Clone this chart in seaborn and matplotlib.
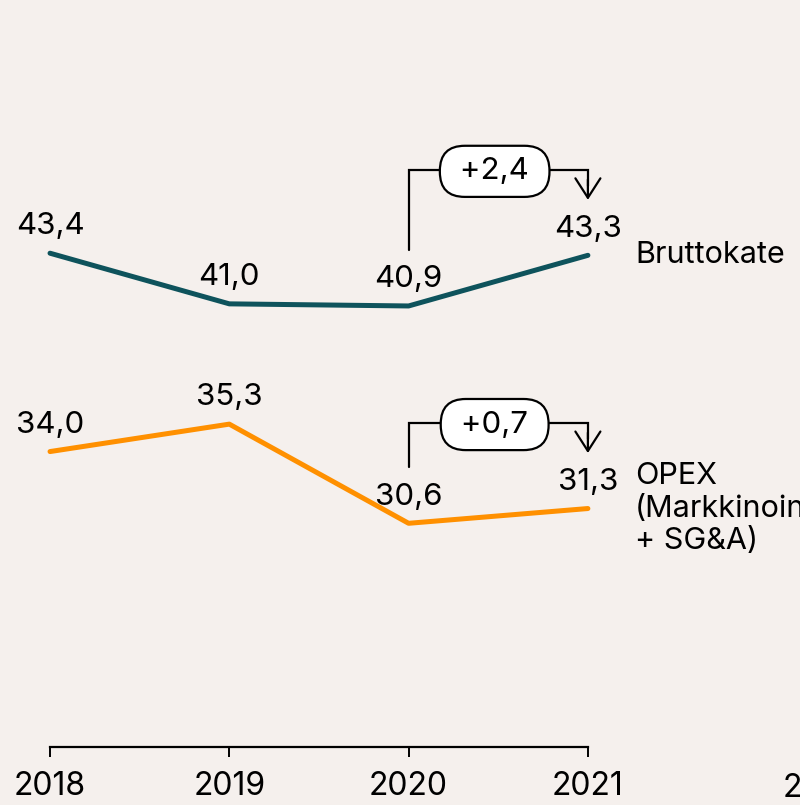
import numpy as np
import pandas as pd
import matplotlib.pyplot as plt
import seaborn as sns

# chart values
years = [2018, 2019, 2020, 2021]
bruttokate = [43.4, 41.0, 40.9, 43.3]
opex = [34.0, 35.3, 30.6, 31.3]
series_names = ["Bruttokate", "OPEX\n(Markkinointi\n+ SG&A)"]
changes = ["+2,4", "+0,7"]
series_colors = ["#0e535c", "#ff9000"]

bg = "#f5f0ed"

sns.set_theme(style="white", rc={"axes.facecolor": bg, "figure.facecolor": bg})
plt.rcParams["font.family"] = ["Inter", "DejaVu Sans"]

df = pd.DataFrame({
    "year": years * 2,
    "value": bruttokate + opex,
    "series": [series_names[0]] * 4 + [series_names[1]] * 4,
})

fig = plt.figure(figsize=(8, 8.05), dpi=100)
ax = fig.add_axes([0, 0, 1, 1])

sns.lineplot(data=df, x="year", y="value", hue="series", palette=series_colors,
             linewidth=3.6, legend=False, ax=ax)

ax.set_xlim(2017.721, 2022.183)
ax.set_ylim(17.25, 55.4)

# value labels
for vals in [bruttokate, opex]:
    for x, v in zip(years, vals):
        ax.annotate(f"{v:.1f}".replace(".", ","), (x, v), xytext=(0, 13.5),
                    textcoords="offset points", ha="center", va="baseline",
                    fontsize=22.5, color="black")

# series names at right end
for vals, name in zip([bruttokate, opex], series_names):
    ax.annotate(name, (years[-1], vals[-1]), xytext=(34, 0),
                textcoords="offset points", ha="left", va="center",
                fontsize=22, color="black", linespacing=1.2,
                annotation_clip=False)

# change brackets 2020 -> 2021
for vals, ch in zip([bruttokate, opex], changes):
    top = max(vals[2], vals[3]) + 4.03
    ax.plot([years[2], years[2], years[3], years[3]],
            [vals[2] + 2.65, top, top, vals[3] + 3.3],
            color="black", lw=1.6, solid_joinstyle="miter")
    ax.annotate("", xy=(years[3], vals[3] + 2.63), xytext=(years[3], vals[3] + 3.6),
                arrowprops=dict(arrowstyle="->,head_length=0.7,head_width=0.45",
                                color="black", lw=1.6, mutation_scale=20,
                                shrinkA=0, shrinkB=0))
    ax.text((years[2] + years[3]) / 2 - 0.02, top - 0.05, " " + ch + " ", ha="center", va="center",
            fontsize=22.5, color="black", zorder=5,
            bbox=dict(boxstyle="round,pad=0.37,rounding_size=0.8",
                      facecolor="white", edgecolor="black", linewidth=1.6))

# axis styling
for s in ["top", "right", "left"]:
    ax.spines[s].set_visible(False)
ax.spines["bottom"].set_position(("data", 20))
ax.spines["bottom"].set_bounds(years[0], years[-1])
ax.spines["bottom"].set_color("black")
ax.spines["bottom"].set_linewidth(1.6)
ax.set_xticks(years)
ax.set_xticklabels([str(y) for y in years], fontsize=23, color="black")
ax.tick_params(axis="x", direction="out", length=7.5, width=1.4, color="black",
               labelcolor="black", pad=10, bottom=True)
ax.set_yticks([])
ax.set_xlabel("")
ax.set_ylabel("")

# first label of the next panel, cut off by the edge
fig.text(822 / 800, 1 - 788 / 805, "2022", ha="center", va="center", fontsize=23,
         color="black")

fig.savefig("out.png", dpi=100, facecolor=bg)
